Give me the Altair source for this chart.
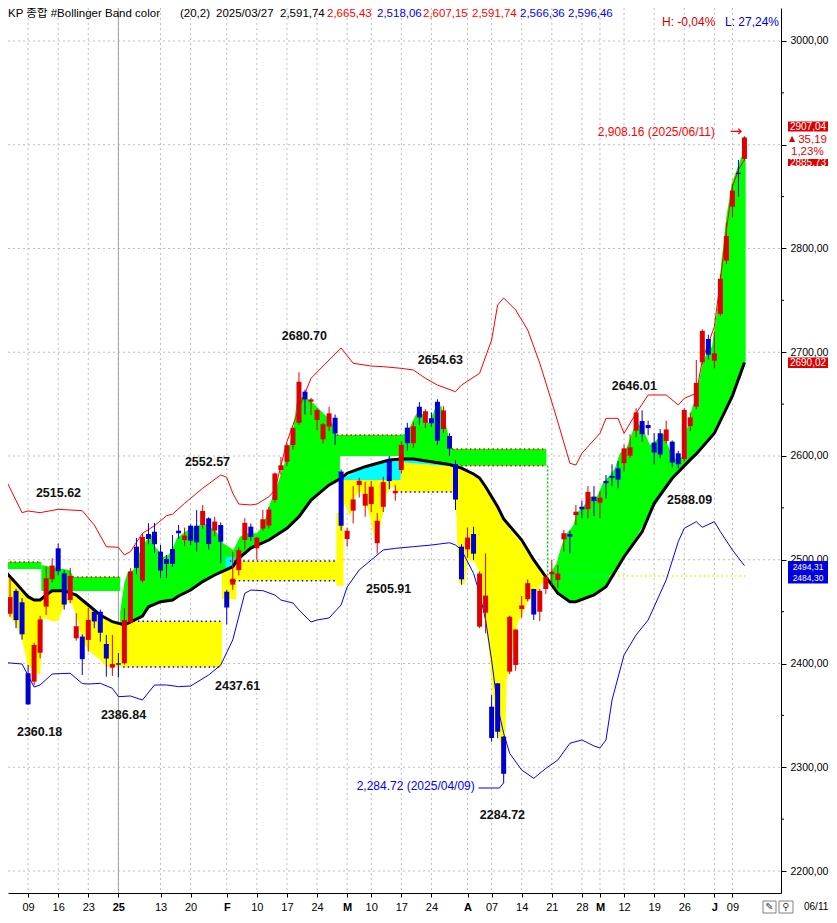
import altair as alt
import pandas as pd

# ---------------------------------------------------------------- data
dates = (
    ["2024-12-%02d" % d for d in [3, 4, 5, 6, 9, 10, 11, 12, 13, 16, 17, 18, 19, 20, 23, 24, 26, 27, 30]]
    + ["2025-01-%02d" % d for d in [2, 3, 6, 7, 8, 9, 10, 13, 14, 15, 16, 17, 20, 21, 22, 23, 24, 31]]
    + ["2025-02-%02d" % d for d in [3, 4, 5, 6, 7, 10, 11, 12, 13, 14, 17, 18, 19, 20, 21, 24, 25, 26, 27, 28]]
    + ["2025-03-%02d" % d for d in [4, 5, 6, 7, 10, 11, 12, 13, 14, 17, 18, 19, 20, 21, 24, 25, 26, 27, 28, 31]]
    + ["2025-04-%02d" % d for d in [1, 2, 3, 4, 7, 8, 9, 10, 11, 14, 15, 16, 17, 18, 21, 22, 23, 24, 25, 28, 29, 30]]
    + ["2025-05-%02d" % d for d in [2, 7, 8, 9, 12, 13, 14, 15, 16, 19, 20, 21, 22, 23, 26, 27, 28, 29, 30]]
    + ["2025-06-%02d" % d for d in [2, 4, 5, 9, 10, 11]]
)

opens = [2495, 2448, 2470, 2459, 2390.6, 2382.5, 2410.4, 2454.8, 2481.2, 2511, 2486.9, 2461.2, 2424.3, 2425.9,
         2422.7, 2449.9, 2449.9, 2418.8, 2396, 2400.2, 2400.2, 2439.6, 2512.6, 2479.8, 2524.8, 2527, 2507.8,
         2500.7, 2510.4, 2528, 2519, 2532.8, 2532.8, 2533.5, 2539.9, 2528, 2533.5, 2469.2, 2476, 2490, 2519,
         2531.9, 2511, 2530, 2533, 2557.6, 2586.5, 2594.5, 2610.6, 2632, 2662, 2652.3, 2634.7, 2616.1, 2628.3,
         2636.9, 2585, 2520, 2547.3, 2572, 2552.1, 2553.7, 2515.9, 2551, 2595.5, 2564, 2586.5, 2627.3, 2612.3,
         2647.5, 2632.1, 2636.4, 2652.3, 2626, 2619.3, 2592.3, 2512.6, 2510, 2524.8, 2435.5, 2449, 2358.4,
         2380.9, 2329.5, 2392.2, 2398.6, 2452.5, 2462, 2471.8, 2449.9, 2471.8, 2486, 2480.5, 2519.7, 2524.8,
         2543, 2551.1, 2548.7, 2560.8, 2555, 2575.9, 2580.7, 2588.1, 2593.1, 2600.3, 2624.4, 2633.7, 2629.9,
         2612.9, 2621.9, 2614.5, 2613.8, 2602.6, 2597.1, 2628.9, 2647.5, 2690.3, 2712.8, 2691.9, 2736.9,
         2788.3, 2840.3, 2873, 2886.3]
highs = [2503, 2482, 2472, 2463, 2398.6, 2420, 2446, 2493.3, 2501.5, 2515.62, 2490, 2492, 2448.4, 2428,
         2453.5, 2453, 2452, 2427.5, 2427.5, 2410.1, 2453.5, 2492, 2521, 2525.5, 2535.2, 2535.5, 2514.2,
         2504.6, 2523.9, 2533.5, 2531, 2534, 2547.9, 2552.57, 2541, 2541.5, 2536, 2471, 2507.8, 2512, 2540,
         2535, 2522, 2548, 2551, 2584, 2599, 2612, 2628, 2680.7, 2664, 2656, 2646, 2632, 2647.5, 2640, 2587,
         2531, 2571, 2579, 2575.2, 2576, 2545, 2580, 2600, 2572, 2614, 2632, 2633, 2652, 2645, 2642, 2654.63,
         2648, 2622, 2596, 2515, 2531, 2531.9, 2488.5, 2506, 2369.6, 2381, 2330, 2446, 2433, 2465, 2481,
         2472, 2472, 2485, 2499.8, 2495, 2528.7, 2528, 2552.8, 2557, 2571, 2571, 2566, 2581.7, 2592, 2595,
         2611, 2621, 2646.01, 2644, 2634, 2622, 2626, 2634, 2615, 2605, 2646, 2642, 2692.5, 2722, 2717,
         2719.8, 2775, 2825, 2862, 2885.3, 2908.16]
lows = [2488, 2445, 2434, 2423, 2360.18, 2379, 2405, 2446.7, 2478, 2485, 2452, 2458, 2422, 2388.9, 2411.4,
        2434, 2421, 2387.3, 2388, 2386.84, 2399, 2438, 2486, 2478, 2515, 2506.5, 2482.2, 2482.4, 2493, 2520,
        2513, 2514, 2507.8, 2530, 2510, 2522.5, 2496.6, 2437.61, 2471, 2485, 2510, 2518, 2500, 2528, 2530,
        2555, 2582, 2590, 2606, 2630, 2640, 2639.5, 2625, 2612, 2624, 2610.6, 2528, 2512.6, 2535, 2560,
        2541.5, 2546, 2505.91, 2546, 2568, 2557, 2583, 2605, 2608, 2630, 2627, 2628, 2610.6, 2622, 2600,
        2548, 2476, 2502, 2499.8, 2434, 2429, 2324.6, 2327.9, 2284.72, 2389.9, 2393, 2444, 2460, 2441.9,
        2441, 2467, 2475.7, 2473, 2507.8, 2506.2, 2533.5, 2540, 2540, 2542, 2540, 2559.2, 2571, 2569, 2585,
        2598, 2618, 2614, 2620, 2592, 2598, 2612, 2589, 2588.09, 2595, 2624, 2645, 2688, 2693, 2684.5, 2735,
        2785, 2830, 2850, 2885]
closes = [2500.1, 2464.0, 2441.85, 2428.16, 2360.58, 2417.84, 2442.51, 2482.12, 2494.46, 2488.97, 2456.81,
          2484.43, 2435.93, 2404.15, 2442.01, 2440.52, 2429.67, 2404.77, 2399.49, 2398.94, 2441.92, 2488.64,
          2492.1, 2521.9, 2520.0, 2515.0, 2489.56, 2496.0, 2496.0, 2525.5, 2523.2, 2518.4, 2516.8, 2547.06,
          2515.11, 2536.8, 2517.37, 2453.95, 2481.69, 2509.27, 2535.5, 2521.92, 2521.27, 2539.05, 2548.39,
          2583.17, 2591.05, 2610.42, 2626.81, 2671.52, 2654.58, 2654.58, 2644.3, 2630.6, 2641.09, 2621.75,
          2532.78, 2528, 2558.13, 2576.16, 2563.48, 2570.39, 2537.6, 2574.82, 2575.81, 2566.43, 2610.69,
          2612.34, 2628.62, 2637.1, 2643.13, 2631.58, 2614.8, 2643.94, 2607.15, 2557.98, 2481.12, 2521.39,
          2505.86, 2486.7, 2465.42, 2328.2, 2334.23, 2293.7, 2445.06, 2432.72, 2455.89, 2477.41, 2447.18,
          2470.1, 2483.42, 2488.42, 2486.64, 2525.56, 2522.33, 2546.3, 2548.52, 2565.42, 2556.61, 2559.79,
          2573.8, 2578.92, 2577.27, 2607.33, 2608.42, 2642, 2621.01, 2626.87, 2603.42, 2601.52, 2625.58,
          2593.67, 2592.09, 2644.4, 2637.22, 2670.48, 2720.64, 2697.67, 2698.97, 2770.84, 2812.05, 2855.77,
          2871.85, 2907.04]

upper_idx = [0, 3, 4, 6, 9, 13, 15, 17, 19, 20, 21, 23, 25, 27, 28, 30, 33, 36, 37, 38, 39, 41, 42, 44, 45,
             47, 49, 51, 54, 56, 58, 61, 63, 66, 68, 70, 72, 75, 76, 79, 81, 82, 83, 85, 87, 89, 91, 92, 94,
             95, 96, 99, 100, 102, 103, 105, 107, 110, 112, 113, 115, 116, 118, 119, 120, 121, 122, 123]
upper_val = [2580.7, 2545.4, 2547, 2545.4, 2548.6, 2547.3, 2533.5, 2512.6, 2512, 2504.6, 2507.8, 2525.5,
             2532.8, 2542.4, 2544, 2554.4, 2568.9, 2581.7, 2579.5, 2564.1, 2553.7, 2552.8, 2553.7, 2560.7,
             2567.2, 2613.8, 2645.9, 2674.9, 2692.5, 2704.1, 2689.4, 2686.7, 2686.1, 2684.5, 2682.9, 2674.9,
             2668.4, 2662, 2668.4, 2679.7, 2711.8, 2745.5, 2752.3, 2740.7, 2721.4, 2689.4, 2652, 2632.8,
             2593, 2591.3, 2602.6, 2621.9, 2636.3, 2636.3, 2621.9, 2641.2, 2658.8, 2658.8, 2649.2, 2655.6,
             2660.4, 2692.5, 2724.6, 2769.6, 2817.8, 2859.6, 2876, 2885.73]

lower_idx = [0, 3, 5, 6, 8, 11, 13, 14, 16, 18, 19, 21, 23, 25, 27, 29, 31, 34, 36, 38, 40, 41, 43, 45, 46,
             48, 49, 51, 52, 54, 56, 57, 59, 61, 63, 65, 68, 71, 74, 75, 76, 78, 79, 80, 81, 82, 83, 84, 86,
             88, 90, 92, 94, 96, 98, 99, 100, 101, 103, 105, 107, 110, 112, 113, 115, 116, 118, 119, 121, 123]
lower_val = [2401, 2399.5, 2377.3, 2379.3, 2389.9, 2390.6, 2380.7, 2380.2, 2380.9, 2376.1, 2368, 2368.7,
             2364.8, 2379.3, 2379.3, 2377.7, 2378.3, 2388.9, 2398.6, 2422.7, 2467.7, 2470.8, 2470.2, 2466,
             2461.2, 2458.3, 2451.6, 2440, 2441.9, 2443.9, 2456.4, 2473.7, 2490.1, 2499.8, 2509.4, 2511,
             2512.6, 2514.2, 2516.4, 2514.2, 2509.4, 2486.9, 2467.6, 2441.9, 2403.4, 2358.4, 2332.7, 2313.4,
             2297.3, 2289.3, 2298.9, 2307, 2323.1, 2326.3, 2320.5, 2318.6, 2326.3, 2364.8, 2408.2, 2427.5,
             2441.9, 2480.5, 2517.4, 2530.3, 2536.7, 2531.3, 2536.7, 2527.1, 2509.4, 2494.31]

ma_idx = [0, 2, 4, 5, 6, 7, 8, 10, 12, 14, 16, 18, 20, 23, 24, 26, 28, 29, 31, 33, 35, 38, 39, 41, 44, 47,
          49, 51, 54, 56, 57, 60, 64, 66, 68, 71, 74, 76, 78, 79, 80, 82, 83, 86, 88, 90, 92, 94, 95, 98,
          100, 103, 106, 108, 111, 114, 115, 118, 121, 123]
ma_val = [2490.1, 2477.3, 2464.4, 2461.2, 2461.2, 2466, 2470.2, 2470.2, 2466, 2456.4, 2446.7, 2440.3,
          2437.1, 2445.8, 2454.7, 2459.6, 2461.2, 2465.1, 2470.8, 2478.9, 2485.3, 2493.3, 2501.4, 2511.3,
          2519, 2530.3, 2541.5, 2557.6, 2572.1, 2578.5, 2583.3, 2589.7, 2596.1, 2597.1, 2597.1, 2594.5,
          2591.74, 2588.4, 2582.7, 2578.8, 2570.4, 2551.1, 2539.3, 2519, 2499.8, 2483.6, 2467.7, 2459.6,
          2459.6, 2466, 2474, 2502.9, 2527, 2554.4, 2578.5, 2596.5, 2602, 2621.9, 2658, 2690.02]

# colour fills, each a list of (day index, low, high)
fill_green_band1 = [(-0.5, 2491.1, 2497.8), (6.2, 2491.1, 2497.8)]
fill_green_band2 = [(6.2, 2469.9, 2495), (11.0, 2469.9, 2490), (11.5, 2469.9, 2483.4), (19.3, 2469.9, 2483.4)]
fill_green_jan = [(19.3, 2438.5, 2450), (20.0, 2437.5, 2478), (20.6, 2437.3, 2488.5), (21.5, 2440.5, 2490.1),
                  (22.0, 2443.5, 2499.8), (22.9, 2447, 2512.6), (23.7, 2451, 2519), (24.5, 2455.3, 2523.9),
                  (25.1, 2457, 2512.6), (25.6, 2459, 2509.4), (26.5, 2460, 2502.9), (27.3, 2461, 2504.6),
                  (27.9, 2462, 2509.4), (28.7, 2463.8, 2520.7), (29.8, 2466.6, 2525.5), (30.9, 2469.5, 2530.3),
                  (32.0, 2473.5, 2531.9), (33.1, 2478.9, 2535.1), (34.2, 2482, 2531.9), (35.3, 2485.3, 2527),
                  (36.4, 2489.3, 2515.9), (37.3, 2492.6, 2512.6), (38.1, 2496, 2509.4), (39.2, 2501.4, 2522.2),
                  (40.3, 2508, 2525.5), (42.0, 2514.5, 2525.5), (43.1, 2517.5, 2533.5), (44.2, 2521, 2554.4),
                  (45.3, 2524.5, 2570.4), (46.4, 2528.3, 2589.7), (47.5, 2532.8, 2612.2), (48.1, 2535.8, 2628.2),
                  (48.6, 2538.5, 2650.8), (49.2, 2541.5, 2657.2), (50.3, 2549.5, 2655.6), (51.4, 2557.6, 2650.8),
                  (52.5, 2565, 2644.3), (53.6, 2572.1, 2638), (54.7, 2575.5, 2630), (55.3, 2577, 2620.2),
                  (55.8, 2578.5, 2620.2)]
fill_green_band3a = [(55.3, 2600, 2620.2), (65.9, 2600, 2620.2)]
fill_green_mar = [(65.8, 2597, 2620), (66.9, 2597, 2621.9), (68.0, 2597, 2634.7), (68.8, 2597, 2644.3),
                  (69.7, 2596, 2639.5), (70.5, 2595, 2631.5), (71.3, 2594.5, 2641.2), (71.9, 2594, 2650.8),
                  (72.7, 2593.5, 2647.5), (73.3, 2593, 2633.1), (73.8, 2592.5, 2620.2), (74.4, 2592.3, 2607.4)]
fill_green_band3b = [(74.4, 2590.5, 2606.7), (90.1, 2590.5, 2606.7)]
fill_green_may = [(90.7, 2479, 2486.9), (91.8, 2470, 2496.6), (92.4, 2467.7, 2509.4), (93.2, 2463, 2523.9),
                  (94.0, 2459.6, 2528.7), (94.6, 2459.6, 2533.5), (95.1, 2459.6, 2544.8), (96.2, 2461, 2551.1),
                  (97.3, 2464.5, 2560.8), (98.5, 2468, 2560.8), (99.6, 2472, 2575.2), (100.7, 2479, 2581.7),
                  (101.5, 2487, 2588.1), (102.3, 2496, 2602.6), (103.4, 2507, 2607.4), (104.5, 2517, 2625.1),
                  (105.1, 2522.5, 2633.1), (106.2, 2533, 2625.1), (107.3, 2543.5, 2610.6), (108.4, 2554.4, 2615.4),
                  (109.5, 2564, 2621.9), (110.6, 2573.5, 2605.8), (111.7, 2581.5, 2596.1), (112.6, 2587, 2599.3),
                  (113.4, 2592, 2625.1), (114.2, 2597.5, 2644.3), (115.1, 2603.5, 2660.4), (115.9, 2609, 2686.1),
                  (116.7, 2614.5, 2699), (117.6, 2620.5, 2705.3), (118.4, 2628.8, 2737.5), (119.2, 2638, 2788.9),
                  (120.0, 2647, 2830.7), (120.9, 2658, 2862.8), (121.7, 2667.5, 2875.7), (122.5, 2677.5, 2888.5),
                  (123.2, 2690, 2891.8)]

fill_yellow_dec = [(-0.5, 2456, 2494), (0, 2453.5, 2490.1), (2, 2437, 2477.3), (3, 2423, 2470), (4, 2397, 2464.4),
                   (6, 2389, 2461.2), (6.5, 2444, 2462.5), (8, 2441, 2470.2), (9, 2441, 2470.2), (10, 2456, 2470.2),
                   (11, 2461, 2469), (12, 2447, 2466), (13, 2423, 2461), (14, 2413, 2456.4), (16, 2403.4, 2446.7),
                   (17, 2396.6, 2443), (18, 2396.6, 2440.3), (19.8, 2396.6, 2438)]
fill_yellow_rect = [(19.8, 2396.6, 2440.8), (36.2, 2396.6, 2440.8)]
fill_yellow_feb3 = [(36.2, 2462, 2488), (38.6, 2462, 2496)]
fill_yellow_febband = [(37.0, 2479.8, 2498.8), (55.3, 2479.8, 2498.8)]
fill_yellow_feb28 = [(55.2, 2475, 2545), (56.4, 2475, 2545)]
fill_yellow_mar = [(56.2, 2545, 2576.9), (56.6, 2554, 2576.9), (57.5, 2541.5, 2576.9), (58.3, 2561, 2576.9),
                   (59.1, 2567, 2576.9), (60.0, 2557.6, 2576.9), (60.8, 2541.5, 2576.9), (61.6, 2519, 2576.9),
                   (62.2, 2525.5, 2576.9), (63.0, 2545, 2576.9), (63.6, 2564, 2576.9), (64.4, 2570, 2576.9),
                   (65.2, 2567, 2576.9), (65.9, 2565.3, 2576.9)]
fill_yellow_marband = [(65.9, 2565.3, 2594), (71.0, 2565.3, 2591.5), (74.9, 2565.3, 2589.5)]
fill_yellow_apr = [(74.9, 2560, 2590), (75.2, 2538, 2589.5), (75.5, 2478, 2589), (76.5, 2476, 2587),
                   (77.0, 2500, 2586), (78.2, 2498, 2582.5), (78.8, 2490, 2580.5), (79.2, 2478, 2578),
                   (79.7, 2450, 2574.5), (80.2, 2430, 2569), (80.8, 2398, 2563), (81.1, 2376, 2560),
                   (81.6, 2350, 2555.5), (82.1, 2334, 2550.5), (82.7, 2312, 2542), (83.0, 2299, 2538),
                   (83.2, 2286, 2536), (83.3, 2338, 2535), (83.5, 2384, 2533.5), (84.1, 2396, 2529),
                   (84.6, 2421, 2525.5), (85.4, 2440, 2520), (86.3, 2450, 2513.5), (87.1, 2460, 2506.5),
                   (87.9, 2466, 2500), (88.8, 2472, 2493), (89.6, 2479, 2487.5), (90.2, 2484, 2484.5)]

fill_cyan_feb = [(36.8, 2492, 2503), (38.3, 2494, 2503)]
fill_cyan_mar = [(56.2, 2576.9, 2578.3), (60.0, 2576.9, 2589.7), (64.0, 2576.9, 2596.1), (65.9, 2576.9, 2597)]
fill_cyan_mar2 = [(65.9, 2594, 2597.1), (71.0, 2591.5, 2594.5), (74.4, 2589.8, 2592.3)]

# dotted band borders: (colour, from idx, to idx, value)
dotted = [("#ff0000", -0.5, 6.2, 2497.8), ("#ff0000", 11.4, 19.3, 2483.4),
          ("#0000ff", 20.0, 36.2, 2440.8), ("#0000ff", 19.8, 36.2, 2396.6),
          ("#0000ff", 37.5, 55.3, 2498.8), ("#0000ff", 37.5, 55.3, 2479.8),
          ("#ff0000", 55.3, 65.9, 2620.2), ("#0000ff", 65.9, 74.9, 2565.3),
          ("#ff0000", 74.4, 90.1, 2606.7), ("#ff0000", 74.4, 90.1, 2590.5),
          ("#00e0e0", 91.0, 100.5, 2484.3), ("#f0f000", 100.5, 123.3, 2484.3)]

tick_idx = [4, 9, 14, 19, 26, 31, 37, 42, 47, 52, 57, 61, 66, 71, 77, 81, 86, 91, 96, 99, 103, 108, 113, 118, 121]
tick_lab = ["09", "16", "23", "25", "13", "20", "F", "10", "17", "24", "M", "10", "17", "24", "A", "07", "14",
            "21", "28", "M", "12", "19", "26", "J", "09"]
tick_bold = [19, 37, 57, 77, 99, 118]
year_idx = [19]

hl_text = ["2515.62", "2552.57", "2680.70", "2654.63", "2646.01", "2588.09", "2505.91", "2437.61", "2386.84",
           "2360.18", "2284.72"]
hl_idx = [9.05, 33.8, 49.9, 72.5, 104.7, 113.9, 63.9, 38.8, 19.85, 5.9, 82.8]
hl_val = [2564.3, 2594.2, 2715.7, 2692.5, 2667.5, 2557.6, 2471.8, 2378.3, 2350.4, 2334.0, 2254.0]

# header pieces and their left edges (page pixels)
header_parts = [("KP 종합 #Bollinger Band color", 8, "black"), ("(20,2)", 180, "black"),
                ("2025/03/27", 216, "black"), ("2,591,74", 280, "black"), ("2,665,43", 327, "#ff0000"),
                ("2,518,06", 377, "#0000ff"), ("2,607,15", 423, "#ff0000"), ("2,591,74", 472, "#ff0000"),
                ("2,566,36", 520, "#0000ff"), ("2,596,46", 568, "#0000ff")]

# ---------------------------------------------------------------- chart
FONT = "Liberation Sans, Arial, Noto Sans CJK KR, sans-serif"
RED, BLUE = "#e00000", "#0000d0"
W, H = 773, 885
xs = alt.Scale(domain=[0.6645, 129.07], nice=False, zero=False, padding=0)
ys = alt.Scale(domain=[2178.8, 3031.8], nice=False, zero=False, padding=0)

tj = ",".join(str(v) for v in tick_idx)
lj = ",".join("'%s'" % s for s in tick_lab)
bj = ",".join(str(v) for v in tick_bold)
x_axis = alt.Axis(values=tick_idx, labelExpr=f"[{lj}][indexof([{tj}], datum.value)]", grid=False,
                  tickSize=4, tickColor="black", domainColor="black", labelFont=FONT, labelFontSize=11,
                  labelColor="black", labelPadding=4, labelOverlap=False, labelFlush=False, title=None,
                  labelFontWeight={"condition": {"test": f"indexof([{bj}], datum.value) >= 0", "value": "bold"},
                                   "value": "normal"})
y_axis = alt.Axis(orient="right", values=list(range(2200, 3001, 100)),
                  labelExpr="datum.value == 2900 ? '' : replace(format(datum.value, '.2f'), '.', ',')",
                  grid=False, tickSize=5, tickColor="black", domainColor="black", labelFont=FONT,
                  labelFontSize=10.5, labelColor="black", labelPadding=4, labelOverlap=False,
                  labelFlush=False, title=None)


def X(f):
    return alt.X(f, type="quantitative", scale=xs, axis=x_axis)


def Y(f):
    return alt.Y(f, type="quantitative", scale=ys, axis=y_axis)


one = pd.DataFrame({"k": [0]})

candles = pd.DataFrame({"idx": range(len(dates)), "date": dates, "open": opens, "high": highs,
                        "low": lows, "close": closes})
candles["col"] = [RED if c >= o else BLUE for o, c in zip(opens, closes)]

grid_v = alt.Chart(pd.DataFrame({"idx": tick_idx})).mark_rule(
    color="#bdbdbd", strokeDash=[2, 3], strokeWidth=1).encode(x=X("idx"), y=alt.value(0), y2=alt.value(H))
grid_h = alt.Chart(pd.DataFrame({"v": list(range(2200, 3001, 100))})).mark_rule(
    color="#bdbdbd", strokeDash=[2, 3], strokeWidth=1).encode(y=Y("v"), x=alt.value(0), x2=alt.value(W))
year_line = alt.Chart(pd.DataFrame({"idx": year_idx})).mark_rule(color="#a0a0a0", strokeWidth=1).encode(
    x=X("idx"), y=alt.value(0), y2=alt.value(H))


def fill_layer(segs, color):
    rows = []
    for n, pts in enumerate(segs):
        for (i, lo, hi) in pts:
            rows.append({"seg": n, "idx": i, "lo": lo, "hi": hi})
    return alt.Chart(pd.DataFrame(rows)).mark_area(color=color, opacity=1, interpolate="linear").encode(
        x=X("idx"), y=Y("hi"), y2=alt.Y2("lo"), detail="seg:N")


yellow = fill_layer([fill_yellow_dec, fill_yellow_rect, fill_yellow_feb3, fill_yellow_febband,
                     fill_yellow_feb28, fill_yellow_mar, fill_yellow_marband, fill_yellow_apr], "#ffff00")
green = fill_layer([fill_green_band1, fill_green_band2, fill_green_jan, fill_green_band3a, fill_green_mar,
                    fill_green_band3b, fill_green_may], "#00ff00")
cyan = fill_layer([fill_cyan_feb, fill_cyan_mar, fill_cyan_mar2], "#00ffff")

dots = alt.Chart(pd.DataFrame(dotted, columns=["c", "a", "b", "v"])).mark_rule(
    strokeDash=[1.5, 3], strokeWidth=1.5).encode(x=X("a"), x2=alt.X2("b"), y=Y("v"),
                                                  color=alt.Color("c:N", scale=None))
green_drop = alt.Chart(pd.DataFrame({"a": [90.3], "v1": [2481.0], "v2": [2590.5]})).mark_rule(
    color="#00c800", strokeDash=[2, 2], strokeWidth=1.5).encode(x=X("a"), y=Y("v1"), y2=alt.Y2("v2"))

upper = alt.Chart(pd.DataFrame({"idx": upper_idx, "v": upper_val})).mark_line(
    color="#ff0000", strokeWidth=1).encode(x=X("idx"), y=Y("v"))
lower = alt.Chart(pd.DataFrame({"idx": lower_idx, "v": lower_val})).mark_line(
    color="#0000ff", strokeWidth=1).encode(x=X("idx"), y=Y("v"))
ma = alt.Chart(pd.DataFrame({"idx": ma_idx, "v": ma_val})).mark_line(
    color="black", strokeWidth=3).encode(x=X("idx"), y=Y("v"))

wicks = alt.Chart(candles).mark_rule(strokeWidth=1).encode(
    x=X("idx"), y=Y("low"), y2=alt.Y2("high"), color=alt.Color("col:N", scale=None))
bodies = alt.Chart(candles).mark_bar(size=5).encode(
    x=X("idx"), y=Y("open"), y2=alt.Y2("close"), color=alt.Color("col:N", scale=None))

hl = alt.Chart(pd.DataFrame({"t": hl_text, "idx": hl_idx, "v": hl_val})).mark_text(
    font=FONT, fontSize=12.5, fontWeight="bold", color="#111111", align="center", baseline="middle").encode(
    x=X("idx"), y=Y("v"), text="t:N")

max_txt = alt.Chart(pd.DataFrame({"t": ["2,908.16 (2025/06/11)"], "idx": [118.1], "v": [2912.3]})).mark_text(
    font=FONT, fontSize=12, color="#ff0000", align="right", baseline="middle").encode(
    x=X("idx"), y=Y("v"), text="t:N")
max_arrow = alt.Chart(pd.DataFrame({"t": ["→"], "idx": [121.6], "v": [2913.5]})).mark_text(
    font="DejaVu Sans", fontSize=15, color="#ff0000", align="center", baseline="middle").encode(
    x=X("idx"), y=Y("v"), text="t:N")
min_txt = alt.Chart(pd.DataFrame({"t": ["2,284.72 (2025/04/09)"], "idx": [78.2], "v": [2281.9]})).mark_text(
    font=FONT, fontSize=12, color="#0000ff", align="right", baseline="middle").encode(
    x=X("idx"), y=Y("v"), text="t:N")
min_line = alt.Chart(pd.DataFrame({"idx": [78.8, 82.3, 83.0], "v": [2280.0, 2280.0, 2285.0]})).mark_line(
    color="#0000ff", strokeWidth=1).encode(x=X("idx"), y=Y("v"))

minor_ticks = alt.Chart(pd.DataFrame({"v": list(range(2250, 3000, 100))})).mark_rule(
    color="black").encode(y=Y("v"), x=alt.value(W), x2=alt.value(W + 3))

header = alt.layer(*[
    alt.Chart(one).mark_text(text=t, font=FONT, fontSize=11.5, color=c, align="left", baseline="alphabetic").encode(
        x=alt.value(xp - 8), y=alt.value(9)) for (t, xp, c) in header_parts])
hl_pct = alt.layer(
    alt.Chart(one).mark_text(text="H: -0,04%", font=FONT, fontSize=12, color="#cc0000", align="left",
                             baseline="alphabetic").encode(x=alt.value(654), y=alt.value(18)),
    alt.Chart(one).mark_text(text="L: 27,24%", font=FONT, fontSize=12, color="#0000cc", align="left",
                             baseline="alphabetic").encode(x=alt.value(717), y=alt.value(18)))


def box(y0, y1, fill, label, size=10, tcolor="white"):
    r = alt.Chart(one).mark_rect(color=fill).encode(x=alt.value(780), x2=alt.value(820),
                                                    y=alt.value(y0), y2=alt.value(y1))
    t = alt.Chart(one).mark_text(text=label, font=FONT, fontSize=size, color=tcolor, align="center",
                                 baseline="middle").encode(x=alt.value(800), y=alt.value((y0 + y1) / 2 + 0.5))
    return r + t


right_side = alt.layer(
    box(151, 158, "#e00000", "2885,73"),
    alt.Chart(one).mark_rect(color="white").encode(x=alt.value(780), x2=alt.value(820), y=alt.value(138),
                                                  y2=alt.value(151)),
    box(113.5, 123.5, "#e00000", "2907,04"),
    alt.Chart(one).mark_text(text="▲", font="DejaVu Sans", fontSize=8, color="#e00000", align="left",
                             baseline="middle").encode(x=alt.value(781), y=alt.value(131)),
    alt.Chart(one).mark_text(text="35,19", font=FONT, fontSize=11.5, color="#e00000", align="right",
                             baseline="middle").encode(x=alt.value(819), y=alt.value(131.5)),
    alt.Chart(one).mark_text(text="1,23%", font=FONT, fontSize=11.5, color="#e00000", align="left",
                             baseline="middle").encode(x=alt.value(783), y=alt.value(144)),
    box(349.5, 360, "#e00000", "2690,02"),
    box(553, 564, "#0000e0", "2494,31", 8.5),
    box(564, 575.5, "#0000e0", "2484,30", 8.5),
    alt.Chart(one).mark_text(text="06/11", font=FONT, fontSize=10, color="black", align="left",
                             baseline="middle").encode(x=alt.value(796), y=alt.value(899)),
    alt.Chart(one).mark_rect(fill="white", stroke="#808080", strokeWidth=1).encode(
        x=alt.value(755), x2=alt.value(768), y=alt.value(893), y2=alt.value(905)),
    alt.Chart(one).mark_rect(fill="white", stroke="#808080", strokeWidth=1).encode(
        x=alt.value(771), x2=alt.value(785), y=alt.value(893), y2=alt.value(905)),
    alt.Chart(one).mark_text(text="✎", font="DejaVu Sans", fontSize=10, color="#404040", align="center",
                             baseline="middle").encode(x=alt.value(761.5), y=alt.value(899)),
    alt.Chart(one).mark_text(text="⚲", font="DejaVu Sans", fontSize=10, color="#404040", align="center",
                             baseline="middle").encode(x=alt.value(778), y=alt.value(899)),
)

chart = alt.layer(
    grid_v, grid_h, year_line, yellow, green, cyan, dots, green_drop, upper, lower, ma,
    wicks, bodies, min_line, hl, max_txt, max_arrow, min_txt, minor_ticks, header, hl_pct, right_side
).properties(
    width=W, height=H, padding={"left": 0, "top": 0, "right": 48, "bottom": 22},
    autosize=alt.AutoSizeParams(type="none"), background="white"
).configure_view(stroke=None)

chart.save("out.html", embed_options={"renderer": "svg", "actions": False})
